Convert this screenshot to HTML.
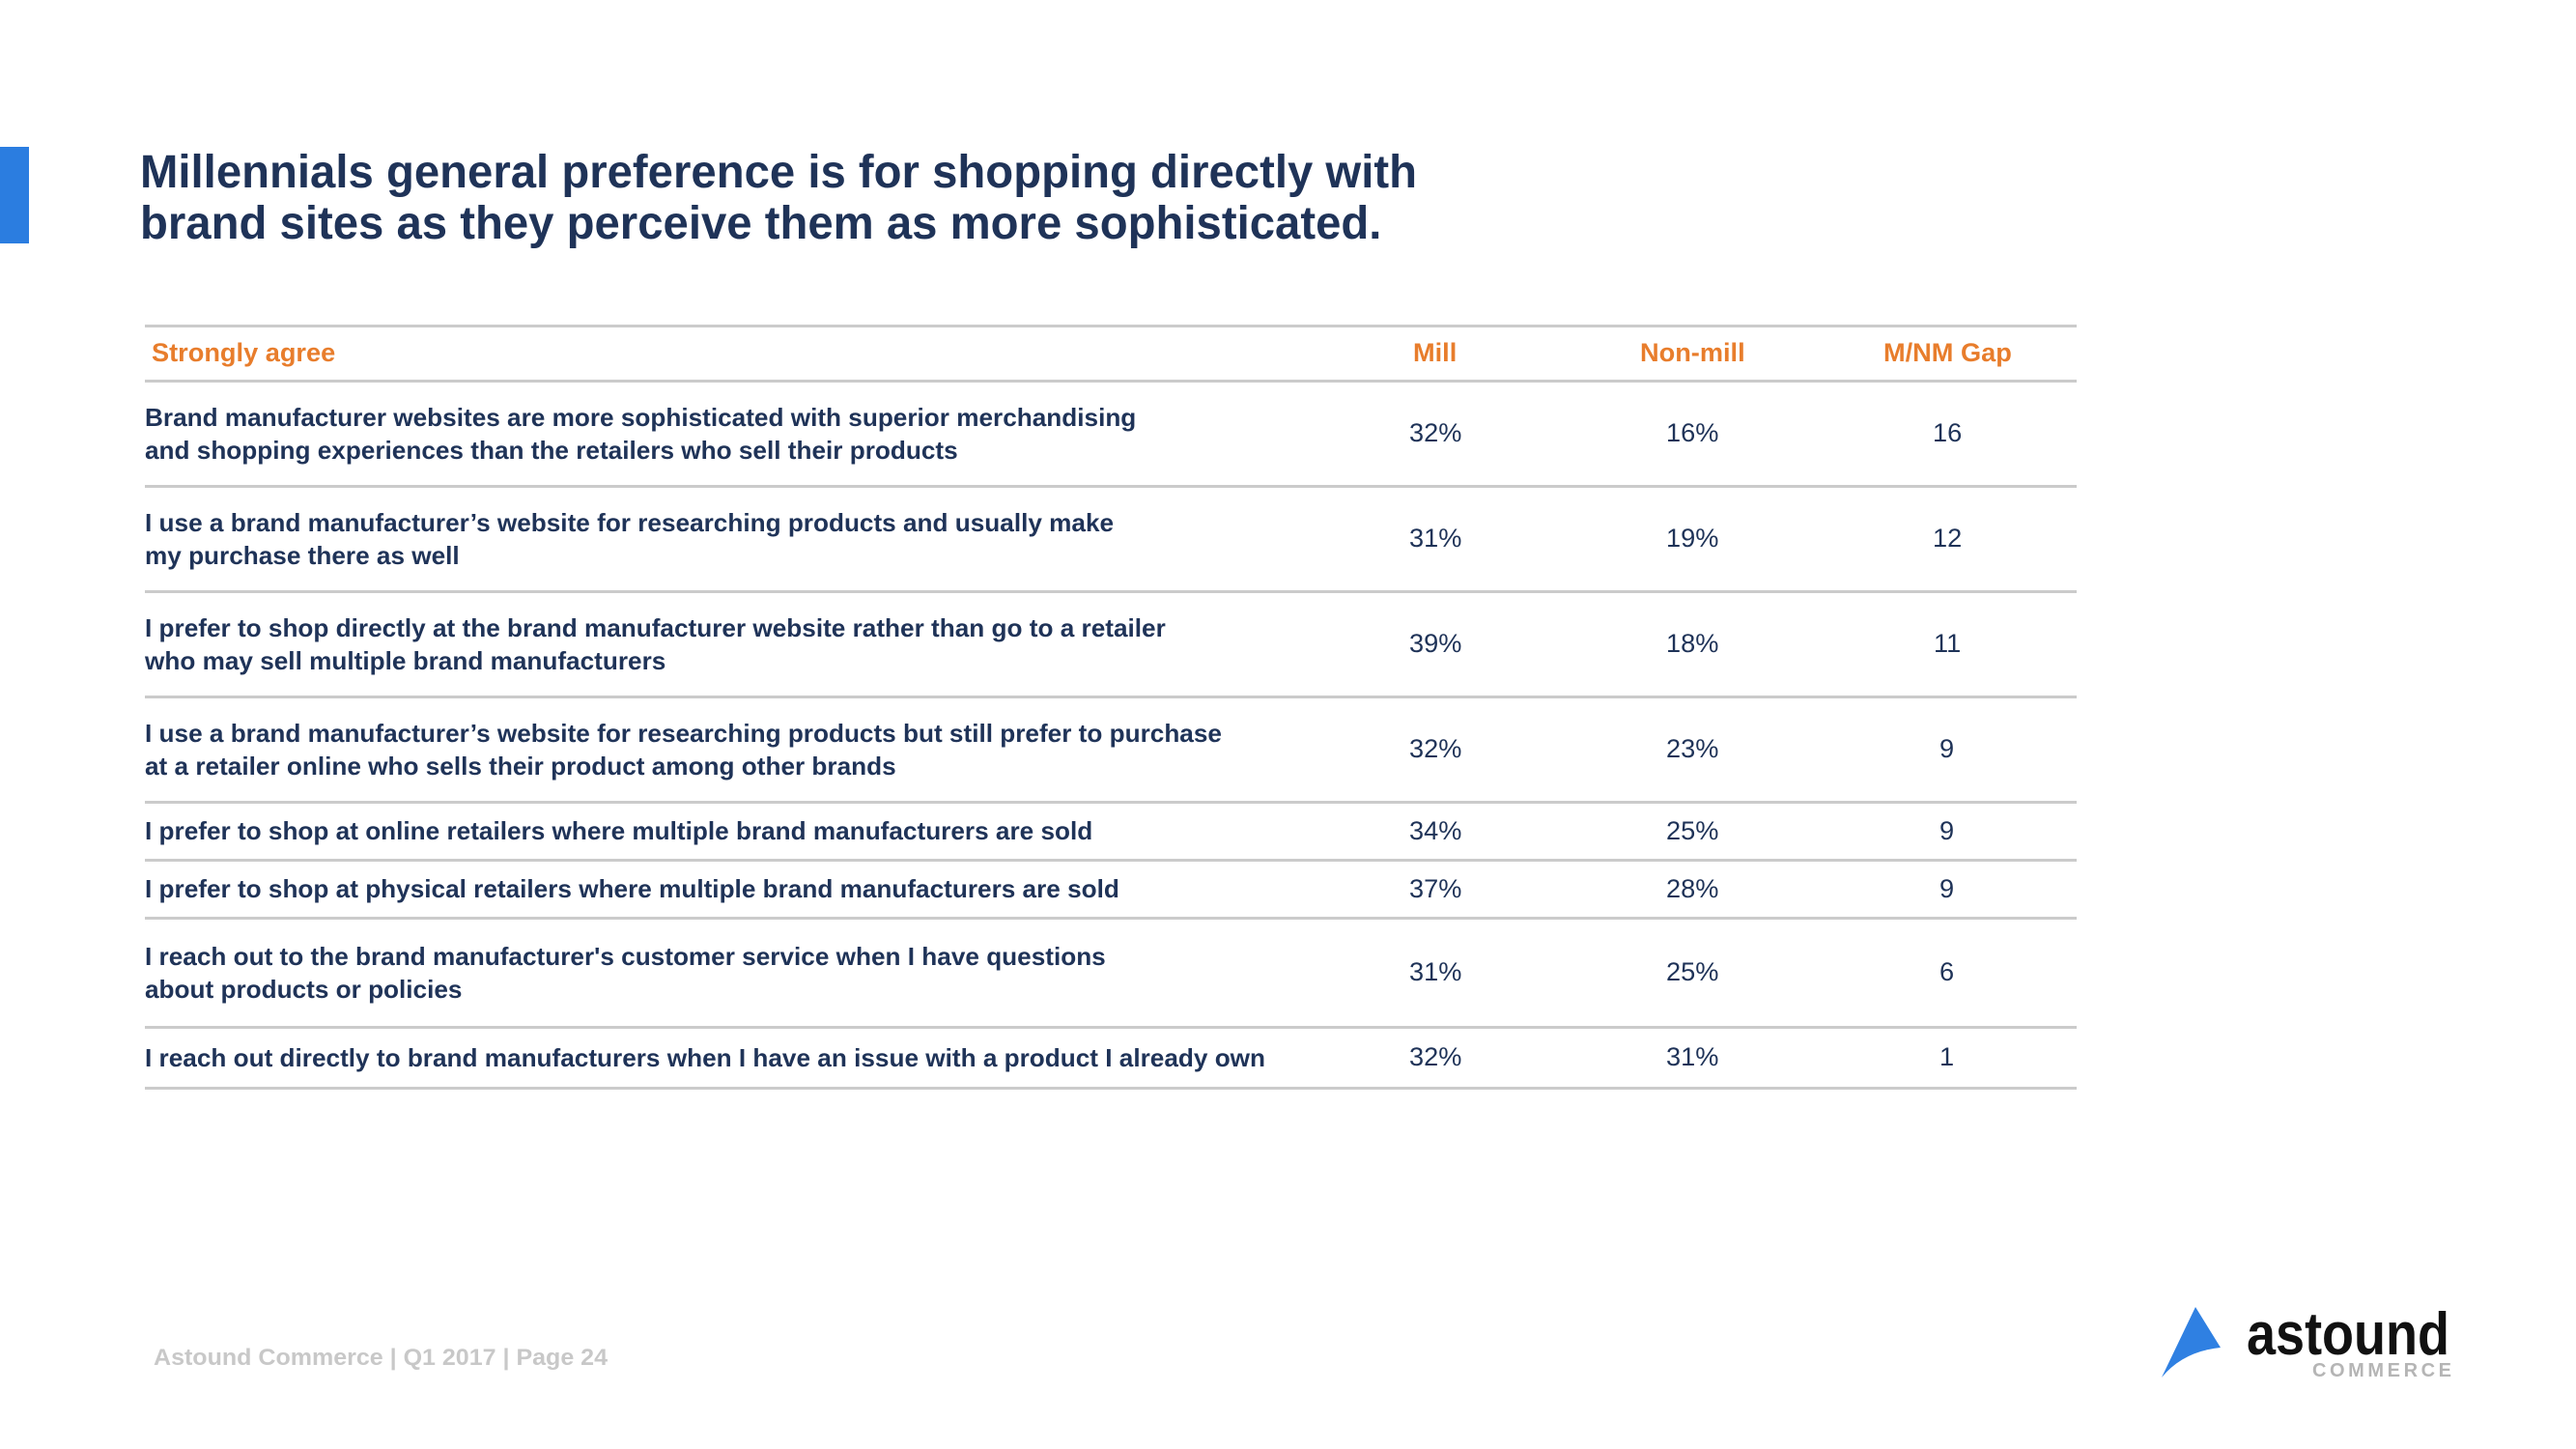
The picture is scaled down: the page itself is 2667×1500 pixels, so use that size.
<!DOCTYPE html>
<html><head><meta charset="utf-8">
<style>
html,body{margin:0;padding:0;background:#fff;}
body{width:2667px;height:1500px;position:relative;overflow:hidden;font-family:"Liberation Sans",Arial,sans-serif;}
.abs{position:absolute;white-space:nowrap;}
.fit{display:inline-block;transform-origin:0 50%;}
#title{left:145px;top:152px;color:#1f3358;font-weight:bold;font-size:48px;line-height:53px;}
.line{position:absolute;left:150px;width:2000px;height:3px;background:#cbcbcb;}
.lbl{color:#1f3358;font-weight:bold;font-size:26px;line-height:34px;left:150px;}
.val{color:#1f3358;font-size:27px;}
.hdr,.hdr.val{color:#e87d2c;font-weight:bold;font-size:27px;}
#footer{left:159px;top:1392px;color:#c8c8c8;font-weight:bold;font-size:24px;}
</style></head>
<body>
<div class="abs" style="left:0;top:152px;width:30px;height:100px;background:#2b7de0"></div>
<div id="title" class="abs"><span class="fit">Millennials general preference is for shopping directly with</span><br><span class="fit">brand sites as they perceive them as more sophisticated.</span></div>
<div id="table"></div>
<div id="footer" class="abs"><span class="fit">Astound Commerce | Q1 2017 | Page 24</span></div>
<svg class="abs" style="left:2230px;top:1347px" width="330" height="90">
<path d="M8 79 L43 6 L69 48 Q30 52 8 79 Z" fill="#2f80e2"/>
<text x="96" y="55" font-family="Liberation Sans, Arial, sans-serif" font-weight="bold" font-size="62" fill="#111" textLength="210" lengthAdjust="spacingAndGlyphs">astound</text>
<text x="164" y="78" font-family="Liberation Sans, Arial, sans-serif" font-weight="bold" font-size="20" fill="#b5b5b5" textLength="144" lengthAdjust="spacing">COMMERCE</text>
</svg>
<script>
var headers=["Strongly agree","Mill","Non-mill","M/NM Gap"];
var labels=[
["Brand manufacturer websites are more sophisticated with superior merchandising","and shopping experiences than the retailers who sell their products"],
["I use a brand manufacturer’s website for researching products and usually make","my purchase there as well"],
["I prefer to shop directly at the brand manufacturer website rather than go to a retailer","who may sell multiple brand manufacturers"],
["I use a brand manufacturer’s website for researching products but still prefer to purchase","at a retailer online who sells their product among other brands"],
["I prefer to shop at online retailers where multiple brand manufacturers are sold"],
["I prefer to shop at physical retailers where multiple brand manufacturers are sold"],
["I reach out to the brand manufacturer's customer service when I have questions","about products or policies"],
["I reach out directly to brand manufacturers when I have an issue with a product I already own"]];
var mill=[32,31,39,32,34,37,31,32];
var nonMill=[16,19,18,23,25,28,25,31];
var gap=[16,12,11,9,9,9,6,1];

var T=document.getElementById('table');
var rowTop=394;
var rowH=[109,109,109,109,60,60,113,63];
var colX=[1486,1752,2016];
function hline(y,name){var d=document.createElement('div');d.className='line';d.style.top=(y-1)+'px';


T.appendChild(d);}
hline(337,'table-top-rule');hline(394,'header-rule');
function txt(cls,x,cy,s,name){var d=document.createElement('div');d.className='abs '+cls;d.style.left=x+'px';
d.innerHTML='<span class="fit">'+s+'</span>';


T.appendChild(d);d.style.top=(cy-d.offsetHeight/2)+'px';return d;}
txt('hdr',157,365,headers[0],'header-label');
['header-mill','header-non-mill','header-gap'].forEach(function(n,i){txt('hdr val',colX[i],365,headers[i+1],n);});
var y=rowTop;
for(var i=0;i<labels.length;i++){
 var h=rowH[i];
 var cy=y+h/2;
 txt('lbl',150,cy,labels[i].join('<br>'),'row-label-'+(i+1));
 txt('val',colX[0],cy,mill[i]+'%','mill-value-'+(i+1));
 txt('val',colX[1],cy,nonMill[i]+'%','non-mill-value-'+(i+1));
 txt('val',colX[2],cy,gap[i],'gap-value-'+(i+1));
 y+=h; hline(y,'row-rule-'+(i+1));
}
function fitW(el,w){return w/el.getBoundingClientRect().width;}
var tl=document.querySelectorAll('#title .fit');
var k=fitW(tl[0],1322);tl.forEach(function(s){s.style.transform='scaleX('+k+')';});
var lbls=document.querySelectorAll('.lbl .fit');
var kl=fitW(lbls[lbls.length-1],1160);
document.querySelectorAll('.lbl .fit,.hdr .fit,.val .fit').forEach(function(s){s.style.transform='scaleX('+kl+')';});
document.querySelectorAll('.val').forEach(function(v){var w=v.firstChild.getBoundingClientRect().width;v.style.left=(parseFloat(v.style.left)-w/2)+'px';});
var f=document.querySelector('#footer .fit');f.style.transform='scaleX('+fitW(f,470)+')';
</script>
</body></html>
